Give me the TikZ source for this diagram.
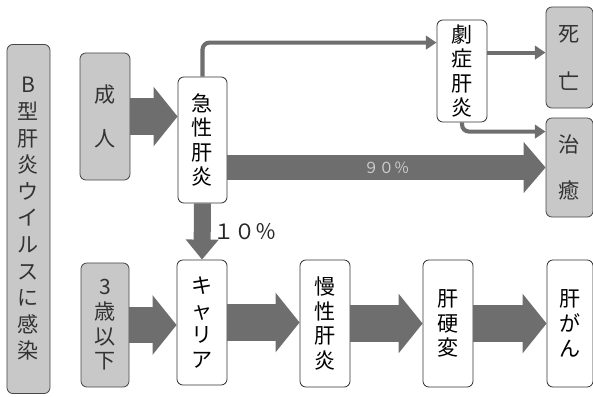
\documentclass[tikz,border=0pt]{standalone}
\usepackage{fontspec}
\newfontfamily\jp{Noto Sans CJK JP}
\usepackage{xcolor}
\usetikzlibrary{calc, arrows.meta}
\definecolor{boxgray}{HTML}{C8C8C8}
\definecolor{arrowgray}{HTML}{6E6E6E}
\definecolor{textgray}{HTML}{333333}

\begin{document}
\begin{tikzpicture}[x=0.03cm, y=-0.03cm, line cap=butt,
    whitebox/.style={draw=black!80, line width=0.7pt, rounded corners=5pt, fill=white,
        inner sep=0pt, align=center, font=\jp\fontsize{18}{21}\selectfont},
    graybox/.style={whitebox, draw=black!72, fill=boxgray, text=textgray},
    bigarrow/.style={arrowgray, line width=1.1cm, -{Triangle[length=0.72cm, width=1.75cm]}},
    midarrow/.style={arrowgray, line width=0.72cm, -{Triangle[length=0.66cm, width=1.5cm]}},
    downarrow/.style={arrowgray, line width=0.51cm, -{Triangle[length=0.6cm, width=0.95cm]}},
    thinarrow/.style={arrowgray, line width=3.5pt, rounded corners=6pt, -{Triangle[length=0.32cm, width=0.4cm]}}]

    % Frame
    \useasboundingbox (0,0) rectangle (593,397);

    % Boxes
    \node[graybox, minimum width=1.29cm, minimum height=10.47cm,
        font=\jp\fontsize{18}{22.7}\selectfont] (hbv) at (28.5,219)
        {B\\型\\肝\\炎\\ウ\\イ\\ル\\ス\\に\\感\\染};
    \node[graybox, minimum width=1.5cm, minimum height=3.81cm] (adult) at (105,116.5) {成\\[16pt]人};
    \node[graybox, minimum width=1.44cm, minimum height=3.72cm] (under3) at (105,325) {3\\歳\\以\\下};
    \node[whitebox, minimum width=1.47cm, minimum height=3.78cm] (acute) at (202.5,140) {急\\性\\肝\\炎};
    \node[whitebox, minimum width=1.5cm, minimum height=3.06cm] (fulm) at (462,71) {劇\\症\\肝\\炎};
    \node[graybox, minimum width=1.41cm, minimum height=3.03cm] (death) at (569.5,57.5) {死\\[20pt]亡};
    \node[graybox, minimum width=1.41cm, minimum height=2.97cm] (cure) at (569.5,167.5) {治\\[18pt]癒};
    \node[whitebox, minimum width=1.5cm, minimum height=3.75cm] (carrier) at (202,322.5) {キ\\ャ\\リ\\ア};
    \node[whitebox, minimum width=1.5cm, minimum height=3.81cm] (chronic) at (325,323.5) {慢\\性\\肝\\炎};
    \node[whitebox, minimum width=1.5cm, minimum height=3.81cm] (cirr) at (448,323.5) {肝\\硬\\変};
    \node[whitebox, minimum width=1.38cm, minimum height=3.81cm] (cancer) at (570,323.5) {肝\\が\\ん};

    % Thin arrows
    \draw[thinarrow] (acute.north) |- ($(fulm.north west)+(0,23)$);
    \draw[thinarrow] ($(fulm.north east)+(0,33)$) -- ($(death.north west)+(0,46)$);
    \draw[thinarrow] (fulm.south) |- ($(cure.north west)+(0,14)$);

    % Block arrows
    \draw[bigarrow] (adult.east) -- (adult.east -| acute.west);
    \draw[bigarrow] (under3.east) -- (under3.east -| carrier.west);
    \draw[bigarrow] (carrier.east) -- (carrier.east -| chronic.west);
    \draw[bigarrow] (chronic.east) -- (cirr.west);
    \draw[bigarrow] (cirr.east) -- (cancer.west);
    \draw[midarrow] (acute.east |- cure.west) -- node[text=black!20, font=\jp\fontsize{13}{13}\selectfont] {９０％} (cure.west);
    \draw[downarrow] (acute.south) -- node[right=0.08cm, inner sep=0pt, text=black!85,
        font=\jp\fontsize{18}{18}\selectfont] {１０％} (carrier.north);
\end{tikzpicture}
\end{document}
